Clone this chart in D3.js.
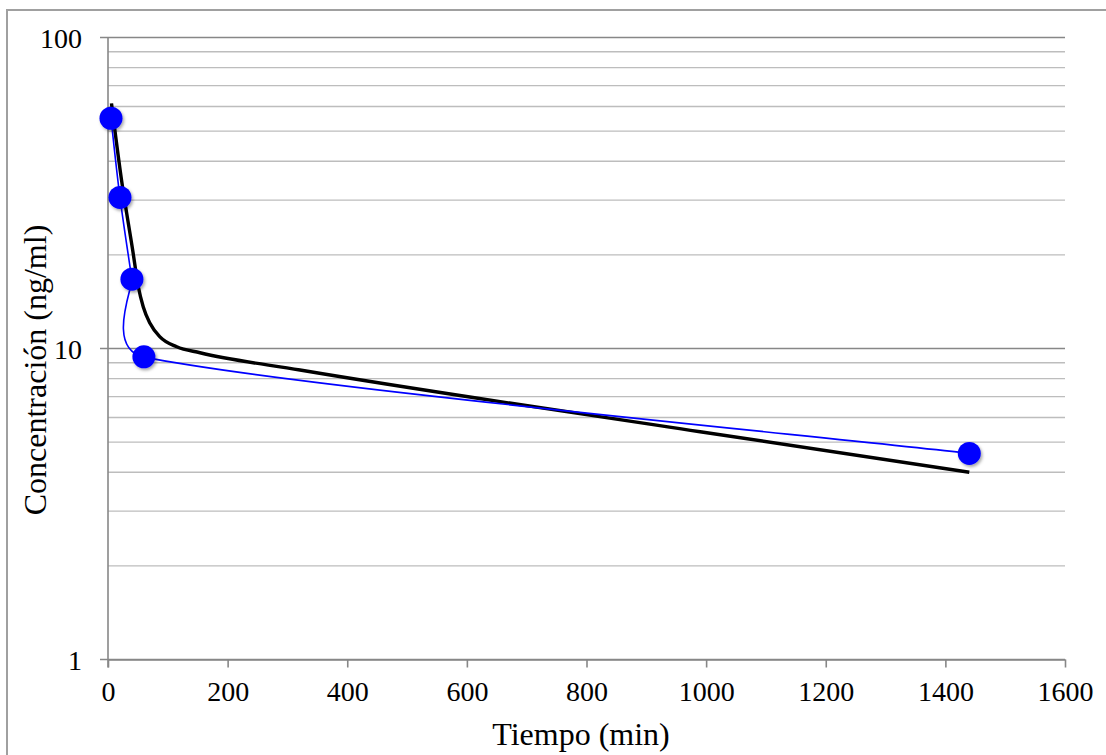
<!DOCTYPE html>
<html>
<head>
<meta charset="utf-8">
<script src="https://cdn.jsdelivr.net/npm/d3@7"></script>
<style>
  body { margin: 0; background: #ffffff; }
</style>
</head>
<body>
<div id="chart"></div>
<script>
// Datos medidos (puntos azules)
const tiempo = [5, 20, 40, 60, 1440];
const concentracion = [55.0, 30.6, 16.7, 9.4, 4.6];

// Curva ajustada (línea negra)
const tiempoAjuste = [5.8, 22.6, 41.3, 50.7, 59.0, 70.2, 86.9, 114.9, 153.8, 321, 990, 1440];
const concAjuste = [61.4, 34.8, 20.7, 15.8, 13.6, 12.05, 10.9, 10.13, 9.69, 8.53, 5.40, 4.0];

const xTicks = [0, 200, 400, 600, 800, 1000, 1200, 1400, 1600];
const yTicks = [1, 10, 100];
const yMinor = [2, 3, 4, 5, 6, 7, 8, 9, 20, 30, 40, 50, 60, 70, 80, 90];

const FONT = "'Liberation Serif', 'Times New Roman', serif";
const W = 1106, H = 755;
const margin = { top: 37.5, left: 108 };
const width = 957;
const height = 622;

const root = d3.select("#chart").append("svg")
  .attr("width", W)
  .attr("height", H);

// sombra de los marcadores
const defs = root.append("defs");
const shadow = defs.append("filter").attr("id", "sombra")
  .attr("x", "-50%").attr("y", "-50%").attr("width", "200%").attr("height", "200%");
shadow.append("feDropShadow")
  .attr("dx", 1.5).attr("dy", 2).attr("stdDeviation", 1.5)
  .attr("flood-color", "#000").attr("flood-opacity", 0.35);

// marco exterior
root.append("rect")
  .attr("x", 7)
  .attr("y", 10)
  .attr("width", W + 20)
  .attr("height", H + 20)
  .attr("fill", "none")
  .attr("stroke", "#a0a0a0")
  .attr("stroke-width", 2);

const svg = root.append("g")
  .attr("transform", `translate(${margin.left},${margin.top})`);

// Escalas
const xScale = d3.scaleLinear().domain([0, 1600]).range([0, width]);
const yScale = d3.scaleLog().domain([1, 100]).range([height, 0]);

// Rejilla menor
svg.append("g")
  .selectAll("line")
  .data(yMinor)
  .join("line")
  .attr("x1", 0)
  .attr("x2", width)
  .attr("y1", d => yScale(d))
  .attr("y2", d => yScale(d))
  .attr("stroke", "#bdbdbd")
  .attr("stroke-width", 1.4);

// Rejilla principal + marcas del eje Y
svg.append("g")
  .selectAll("line")
  .data(yTicks)
  .join("line")
  .attr("x1", -8)
  .attr("x2", width)
  .attr("y1", d => yScale(d))
  .attr("y2", d => yScale(d))
  .attr("stroke", "#878787")
  .attr("stroke-width", 1.6);

// Eje Y
svg.append("line")
  .attr("x1", 0).attr("x2", 0)
  .attr("y1", 0).attr("y2", height + 8)
  .attr("stroke", "#878787")
  .attr("stroke-width", 1.6);

svg.append("g")
  .selectAll("text")
  .data(yTicks)
  .join("text")
  .attr("x", -26)
  .attr("y", d => yScale(d) + 10)
  .attr("text-anchor", "end")
  .style("font-family", FONT)
  .style("font-size", "28px")
  .text(d => d);

// Eje X
const xAxis = svg.append("g")
  .attr("transform", `translate(0,${height})`)
  .call(d3.axisBottom(xScale)
    .tickValues(xTicks)
    .tickFormat(d3.format("d"))
    .tickSize(8)
    .tickPadding(14)
    .tickSizeOuter(0));

xAxis.select(".domain").attr("stroke", "#878787").attr("stroke-width", 1.6);
xAxis.selectAll(".tick line").attr("stroke", "#878787").attr("stroke-width", 1.6);
xAxis.selectAll(".tick text")
  .style("font-size", "28px")
  .style("font-family", FONT)
  .attr("fill", "#000");

// Títulos de ejes
root.append("text")
  .attr("x", 581)
  .attr("y", 745)
  .attr("text-anchor", "middle")
  .style("font-family", FONT)
  .style("font-size", "32px")
  .text("Tiempo (min)");

root.append("text")
  .attr("transform", "translate(46,370) rotate(-90)")
  .attr("text-anchor", "middle")
  .style("font-family", FONT)
  .style("font-size", "32px")
  .text("Concentración (ng/ml)");

// Curva ajustada
const ajuste = tiempoAjuste.map((t, i) => [t, concAjuste[i]]);
svg.append("path")
  .datum(ajuste)
  .attr("fill", "none")
  .attr("stroke", "#000")
  .attr("stroke-width", 3.4)
  .attr("d", d3.line()
    .x(d => xScale(d[0]))
    .y(d => yScale(d[1]))
    .curve(d3.curveMonotoneX));

// Línea suavizada tipo Excel entre los datos medidos
function suavizado(pts) {
  const dist = (a, b) => Math.hypot(b[0] - a[0], b[1] - a[1]);
  const p = d3.path();
  p.moveTo(pts[0][0], pts[0][1]);
  for (let i = 0; i < pts.length - 1; i++) {
    const p0 = pts[Math.max(i - 1, 0)], p1 = pts[i], p2 = pts[i + 1];
    const p3 = pts[Math.min(i + 2, pts.length - 1)];
    const d12 = dist(p1, p2), d02 = dist(p0, p2), d13 = dist(p1, p3);
    const c1 = d02 / 6 >= d12 / 2, c2 = d13 / 6 >= d12 / 2;
    let f1 = 1 / 6, f2 = 1 / 6;
    if (c1 && c2) { f1 = d12 / 2 / d02; f2 = d12 / 2 / d13; }
    else if (c1) { f1 = f2 = d12 / 2 / d02; }
    else if (c2) { f1 = f2 = d12 / 2 / d13; }
    p.bezierCurveTo(
      p1[0] + (p2[0] - p0[0]) * f1, p1[1] + (p2[1] - p0[1]) * f1,
      p2[0] - (p3[0] - p1[0]) * f2, p2[1] - (p3[1] - p1[1]) * f2,
      p2[0], p2[1]);
  }
  return p.toString();
}

const medidos = tiempo.map((t, i) => [xScale(t), yScale(concentracion[i])]);

svg.append("path")
  .attr("fill", "none")
  .attr("stroke", "#0000ff")
  .attr("stroke-width", 1.6)
  .attr("d", suavizado(medidos));

svg.append("g")
  .selectAll("circle")
  .data(tiempo)
  .join("circle")
  .attr("cx", d => xScale(d))
  .attr("cy", (d, i) => yScale(concentracion[i]))
  .attr("r", 11.5)
  .attr("fill", "#0000ff")
  .attr("filter", "url(#sombra)");
</script>
</body>
</html>
